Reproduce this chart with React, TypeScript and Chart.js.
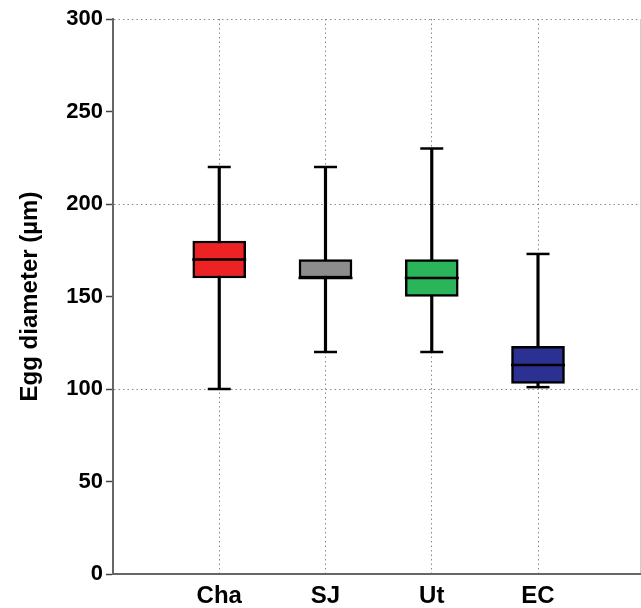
import React, { useEffect, useRef } from 'react';
import { Chart, registerables } from 'chart.js';

Chart.register(...registerables);

const categories = ['Cha', 'SJ', 'Ut', 'EC'];
const whiskerLow = [100, 120, 120, 101];
const q1 = [160, 160, 150, 103];
const medians = [170, 160, 160, 113];
const q3 = [180, 170, 170, 123];
const whiskerHigh = [220, 220, 230, 173];
const boxColors = ['#ec2224', '#8c8c8c', '#2bb55a', '#2b3192'];
const yTicks = [0, 50, 100, 150, 200, 250, 300];
const X_END = 4.96;

const FONT = "'Liberation Sans', Arial, Helvetica, sans-serif";

export default function App() {
  const ref = useRef<HTMLCanvasElement | null>(null);

  useEffect(() => {
    document.body.style.margin = '0';
    const canvas = ref.current;
    if (!canvas) return;
    const xs = categories.map((_, i) => i + 1);
    // null end points keep the chart from reserving room for the wide line markers
    const pts = (arr: number[]) => [
      { x: 0, y: null },
      ...xs.map((x, i) => ({ x, y: arr[i] })),
      { x: X_END, y: null },
    ];
    const markerStyle = (r: number) => ({
      type: 'line' as const,
      showLine: false,
      borderWidth: 0,
      pointStyle: 'line' as const,
      pointRadius: (c: any) => (c.raw && c.raw.y != null ? r : 0),
      pointHoverRadius: (c: any) => (c.raw && c.raw.y != null ? r : 0),
      pointBorderWidth: (c: any) => (c.raw && c.raw.y != null ? 2.5 : 0),
      pointHoverBorderWidth: (c: any) => (c.raw && c.raw.y != null ? 2.5 : 0),
      pointBorderColor: '#000',
      borderColor: '#000',
      order: 0,
    });
    const chart = new Chart(canvas, {
      type: 'bar',
      data: {
        datasets: [
          { ...markerStyle(11.5), label: 'low', data: pts(whiskerLow) },
          { ...markerStyle(11.5), label: 'high', data: pts(whiskerHigh) },
          { ...markerStyle(27), label: 'median', data: pts(medians) },
          {
            type: 'bar',
            label: 'box',
            data: xs.map((x, i) => ({ x, y: [q1[i], q3[i]] })) as any,
            backgroundColor: boxColors,
            borderColor: '#000',
            borderWidth: 2.5,
            borderSkipped: false,
            barThickness: 53,
            grouped: false,
            order: 1,
          },
          {
            type: 'bar',
            label: 'whisker',
            data: xs.map((x, i) => ({ x, y: [whiskerLow[i], whiskerHigh[i]] })) as any,
            backgroundColor: '#000',
            borderWidth: 0,
            barThickness: 2.5,
            grouped: false,
            order: 2,
          },
        ] as any,
      },
      options: {
        responsive: false,
        animation: false,
        devicePixelRatio: 1,
        layout: { padding: { top: 19, right: 1, left: 0, bottom: 0 } },
        plugins: { legend: { display: false }, tooltip: { enabled: false } },
        scales: {
          x: {
            type: 'linear',
            min: 0,
            max: X_END,
            offset: false,
            afterBuildTicks: (axis: any) => {
              axis.ticks = [...xs, X_END].map((v) => ({ value: v }));
            },
            afterFit: (s: any) => {
              s.height = 34;
            },
            ticks: {
              autoSkip: false,
              maxRotation: 0,
              padding: 0,
              color: '#000',
              font: { family: FONT, size: 24, weight: 'bold' },
              callback: (v: any) => categories[Number(v) - 1] ?? '',
            },
            grid: {
              drawTicks: true,
              tickLength: 8,
              tickColor: 'transparent',
              tickWidth: 0,
              offset: false,
              lineWidth: 1,
              color: (c: any) =>
                c.tick && c.tick.value === X_END ? '#cfcfcf' : '#8a8a8a',
            },
            border: {
              display: true,
              color: '#666',
              width: 2,
              dash: (c: any) =>
                c.tick && c.tick.value === X_END ? [] : [1.5, 3],
            },
          } as any,
          y: {
            type: 'linear',
            min: 0,
            max: 300,
            afterBuildTicks: (axis: any) => {
              axis.ticks = yTicks.map((v) => ({ value: v }));
            },
            afterFit: (s: any) => {
              s.width = 113;
            },
            ticks: {
              padding: 3,
              color: '#000',
              font: { family: FONT, size: 22, weight: 'bold' },
            },
            grid: {
              drawTicks: true,
              tickLength: 7,
              tickWidth: 1.5,
              tickColor: '#444',
              lineWidth: 1,
              color: (c: any) =>
                c.tick && c.tick.value % 100 === 0 && c.tick.value > 0
                  ? '#8a8a8a'
                  : 'transparent',
            },
            border: { display: true, color: '#666', width: 2, dash: [1.5, 3] },
            title: {
              display: true,
              text: 'Egg diameter (µm)',
              color: '#000',
              font: { family: FONT, size: 24, weight: 'bold' },
              padding: { top: 16, bottom: 0 },
            },
          } as any,
        },
      },
    });
    return () => chart.destroy();
  }, []);

  return (
    <div style={{ width: 641, height: 608 }}>
      <canvas ref={ref} width={641} height={608} style={{ display: 'block' }} />
    </div>
  );
}
